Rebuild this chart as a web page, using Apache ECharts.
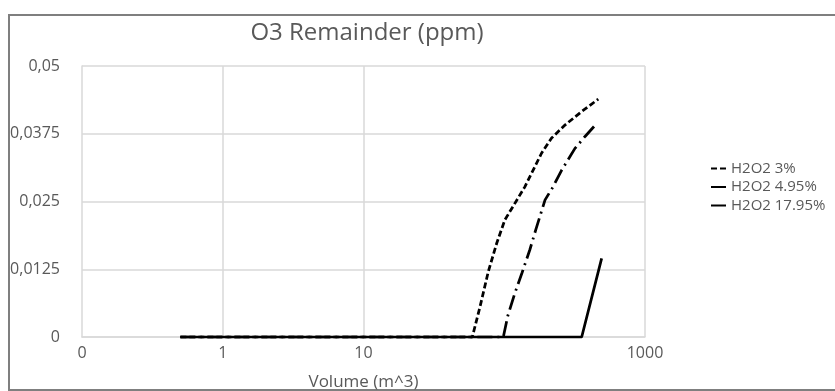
<!DOCTYPE html>
<html>
<head>
<meta charset="utf-8">
<script src="https://cdn.jsdelivr.net/npm/echarts@6/dist/echarts.min.js"></script>
<style>
  html, body { margin: 0; padding: 0; background: #fff; }
  #chart { width: 835px; height: 391px; }
</style>
</head>
<body>
<div id="chart"></div>
<script>
var names = ['H2O2 3%', 'H2O2 4.95%', 'H2O2 17.95%'];

// [volume m^3, O3 ppm]
var h2o2_3 = [[0.5, 0], [59.3, 0], [67.3, 0.0056], [77.1, 0.0121], [88.4, 0.0173], [101, 0.0216],
    [140, 0.0277], [184, 0.0339], [217, 0.0367], [270, 0.0391], [355, 0.0416], [466, 0.0439]];
var h2o2_495 = [[0.5, 0], [98.5, 0], [106, 0.0039], [119, 0.0081], [134, 0.0119], [152, 0.0161],
    [168, 0.0199], [195, 0.0253], [221, 0.0276], [256, 0.0308], [318, 0.0348], [375, 0.037], [454, 0.0394]];
var h2o2_1795 = [[0.5, 0], [355, 0], [492, 0.0145]];

var xTickValues = [0.1, 1, 10, 100, 1000];
var xTickText = ['0', '1', '10', '', '1000'];
var xGridValues = [1, 10, 1000];

var grey = '#595959';
var gridColor = '#d9d9d9';
var font = 'Open Sans';

function xLabel(v) {
    for (var i = 0; i < xTickValues.length; i++) {
        if (Math.abs(Math.log10(v) - Math.log10(xTickValues[i])) < 1e-6) return xTickText[i];
    }
    return '';
}

var option = {
    animation: false,
    backgroundColor: '#fff',
    title: {
        text: 'O3 Remainder (ppm)',
        left: 362,
        textAlign: 'center',
        top: 16,
        textStyle: { fontFamily: font, fontSize: 24, fontWeight: 'normal', color: grey }
    },
    legend: {
        orient: 'vertical',
        left: 705,
        top: 156,
        itemWidth: 15,
        itemHeight: 14,
        itemGap: 3.5,
        data: names,
        itemStyle: { color: 'rgba(0,0,0,0)', borderWidth: 0 },
        textStyle: { fontFamily: font, fontSize: 15, color: grey }
    },
    graphic: [{
        type: 'rect',
        shape: { x: 9, y: 15, width: 840, height: 375 },
        style: { fill: 'none', stroke: '#7f7f7f', lineWidth: 2 },
        silent: true
    }],
    grid: { left: 82, right: 190, top: 66, bottom: 54, containLabel: false, outerBoundsMode: 'none' },
    xAxis: {
        type: 'log',
        logBase: 10,
        min: 0.1,
        max: 1000,
        name: 'Volume (m^3)',
        nameLocation: 'middle',
        nameGap: 37,
        nameTextStyle: { fontFamily: font, fontSize: 17, color: grey },
        axisLine: { show: true, lineStyle: { color: gridColor, width: 1.5 } },
        axisTick: { show: false },
        splitLine: { show: false },
        minorSplitLine: { show: false },
        axisLabel: { margin: 8, fontFamily: font, fontSize: 16, color: grey, formatter: xLabel }
    },
    yAxis: {
        type: 'value',
        min: 0,
        max: 0.05,
        interval: 0.0125,
        axisLine: { show: true, lineStyle: { color: gridColor, width: 1.5 } },
        axisTick: { show: false },
        splitLine: { lineStyle: { color: gridColor, width: 1.5 } },
        axisLabel: {
            margin: 22,
            fontFamily: font,
            fontSize: 16,
            color: grey,
            formatter: function (v) { return String(+v.toFixed(4)).replace('.', ','); }
        }
    },
    series: [
        {
            name: names[0],
            type: 'line',
            data: h2o2_3,
            symbol: 'none',
            lineStyle: { color: '#000', width: 2.75, type: [6, 3] },
            itemStyle: { color: '#000' },
            z: 3,
            markLine: {
                silent: true,
                symbol: 'none',
                label: { show: false },
                lineStyle: { color: gridColor, width: 1.5, type: 'solid' },
                data: xGridValues.map(function (v) { return { xAxis: v }; }),
                z: 1
            }
        },
        {
            name: names[1],
            type: 'line',
            data: h2o2_495,
            symbol: 'none',
            lineStyle: { color: '#000', width: 2.75, type: [15, 5, 2, 5] },
            itemStyle: { color: '#000' },
            z: 3
        },
        {
            name: names[2],
            type: 'line',
            data: h2o2_1795,
            symbol: 'none',
            lineStyle: { color: '#000', width: 2.75 },
            itemStyle: { color: '#000' },
            z: 3
        }
    ]
};

var chart = echarts.init(document.getElementById('chart'));
chart.setOption(option);
</script>
</body>
</html>
